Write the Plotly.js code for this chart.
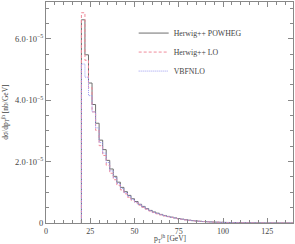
<!DOCTYPE html>
<html>
<head>
<meta charset="utf-8">
<script src="https://cdn.plot.ly/plotly-3.0.1.min.js"></script>
<style>html,body{margin:0;padding:0;background:#fff;}#plot{width:295px;height:244px;}</style>
</head>
<body>
<div id="plot"></div>
<script>
// bin edges: 2 GeV bins starting at 20 GeV
var binStart = 20;
var binWidth = 2;
var seriesNames = ["Herwig++ POWHEG", "Herwig++ LO", "VBFNLO"];
// values in units of 1e-5 nb/GeV
var powheg = [6.62,5.48,4.56,3.86,3.25,2.70,2.39,2.04,1.76,1.52,1.33,1.16,1.02,0.90,0.79,0.70,0.61,0.54,0.47,0.41,0.36,0.32,0.28,0.245,0.215,0.19,0.165,0.145,0.125,0.11,0.09,0.078,0.066,0.056,0.048,0.041,0.035,0.030,0.026,0.022,0.019,0.017,0.015,0.013,0.011,0.010,0.009,0.008,0.007,0.006,0.005,0.0045,0.004,0.0035,0.003,0.0025,0.002,0.0018,0.0015,0.0012];
var lo = [6.85,5.30,4.41,3.62,3.02,2.52,2.20,1.88,1.62,1.41,1.23,1.08,0.95,0.84,0.74,0.66,0.58,0.51,0.45,0.39,0.34,0.30,0.265,0.23,0.205,0.18,0.155,0.135,0.12,0.10,0.085,0.073,0.063,0.054,0.046,0.040,0.034,0.029,0.025,0.021,0.018,0.016,0.014,0.012,0.010,0.009,0.008,0.0075,0.0065,0.0055,0.0048,0.0042,0.0036,0.003,0.0026,0.0022,0.0019,0.0016,0.0013,0.0011];
var vbfnlo = [5.18,4.75,4.15,3.62,3.10,2.62,2.28,1.97,1.70,1.48,1.29,1.13,0.99,0.87,0.77,0.68,0.60,0.53,0.46,0.40,0.35,0.31,0.27,0.24,0.21,0.185,0.16,0.14,0.122,0.10,0.088,0.075,0.064,0.055,0.047,0.041,0.035,0.030,0.026,0.022,0.019,0.017,0.014,0.012,0.011,0.009,0.008,0.007,0.0068,0.0058,0.005,0.0043,0.0037,0.0032,0.0027,0.0023,0.0019,0.0016,0.0013,0.0011];
var yTickVals = [0, 2e-5, 4e-5, 6e-5];
var yTickText = ["0", "2.0·10<sup>−5</sup>", "4.0·10<sup>−5</sup>", "6.0·10<sup>−5</sup>"];
var xTickVals = [0, 25, 50, 75, 100, 125];
var xTickText = ["0", "25", "50", "75", "100", "125"];
var yTitle = "dσ/dp<sub>T</sub><sup>jh</sup> [nb/GeV]";
var xTitle = "p<sub>T</sub><sup>jh</sup> [GeV]";

function stepXY(vals) {
  var xs = [binStart], ys = [0];
  for (var i = 0; i < vals.length; i++) {
    xs.push(binStart + i * binWidth);
    ys.push(vals[i] * 1e-5);
  }
  xs.push(binStart + vals.length * binWidth);
  ys.push(vals[vals.length - 1] * 1e-5);
  return {x: xs, y: ys};
}
var styles = [
  {color: "#6e6e6e", dash: "solid", width: 1},
  {color: "#f08a9a", dash: "3px,2px", width: 1},
  {color: "#9a9af0", dash: "1px,1px", width: 1}
];
var all = [powheg, lo, vbfnlo];
var traces = all.map(function (v, k) {
  var s = stepXY(v);
  return {x: s.x, y: s.y, type: "scatter", mode: "lines", name: seriesNames[k],
    line: {shape: "hv", color: styles[k].color, dash: styles[k].dash, width: styles[k].width}};
});
var fam = "Liberation Serif, DejaVu Serif, serif";
var yfnt = {family: fam, size: 8.5, color: "#444"};
var xfnt = {family: fam, size: 8, color: "#444"};
var layout = {
  width: 295, height: 244,
  margin: {l: 46, r: 2, t: 2, b: 21},
  paper_bgcolor: "#fff", plot_bgcolor: "#fff",
  font: yfnt,
  showlegend: true,
  legend: {x: 0.355, y: 0.925, xanchor: "left", yanchor: "top", bgcolor: "rgba(0,0,0,0)",
    font: {family: fam, size: 7.8, color: "#444"}, tracegroupgap: 0},
  xaxis: {
    range: [0, 139.5], showgrid: false, zeroline: false,
    showline: true, linecolor: "#888", linewidth: 1, mirror: "ticks",
    ticks: "inside", ticklen: 5, tickcolor: "#888", tickwidth: 1,
    tickvals: xTickVals, ticktext: xTickText, tickfont: xfnt,
    minor: {dtick: 5, tick0: 0, ticks: "inside", ticklen: 3, tickcolor: "#888"},
    automargin: false
  },
  yaxis: {
    range: [0, 7.2e-5], showgrid: false, zeroline: false,
    showline: true, linecolor: "#888", linewidth: 1, mirror: "ticks",
    ticks: "inside", ticklen: 5, tickcolor: "#888", tickwidth: 1,
    tickvals: yTickVals, ticktext: yTickText, tickfont: yfnt,
    minor: {dtick: 0.5e-5, tick0: 0, ticks: "inside", ticklen: 3, tickcolor: "#888"},
    automargin: false
  },
  annotations: [{
    text: yTitle, xref: "paper", yref: "paper", x: -0.165, y: 0.5,
    xanchor: "center", yanchor: "middle", textangle: -90, showarrow: false,
    font: {family: fam, size: 7.5, color: "#444"}
  }, {
    text: xTitle, xref: "paper", yref: "paper", x: 0.5, y: -0.072,
    xanchor: "center", yanchor: "middle", showarrow: false,
    font: {family: fam, size: 7.5, color: "#444"}
  }]
};
Plotly.newPlot("plot", traces, layout, {displayModeBar: false, staticPlot: true});
</script>
</body>
</html>
